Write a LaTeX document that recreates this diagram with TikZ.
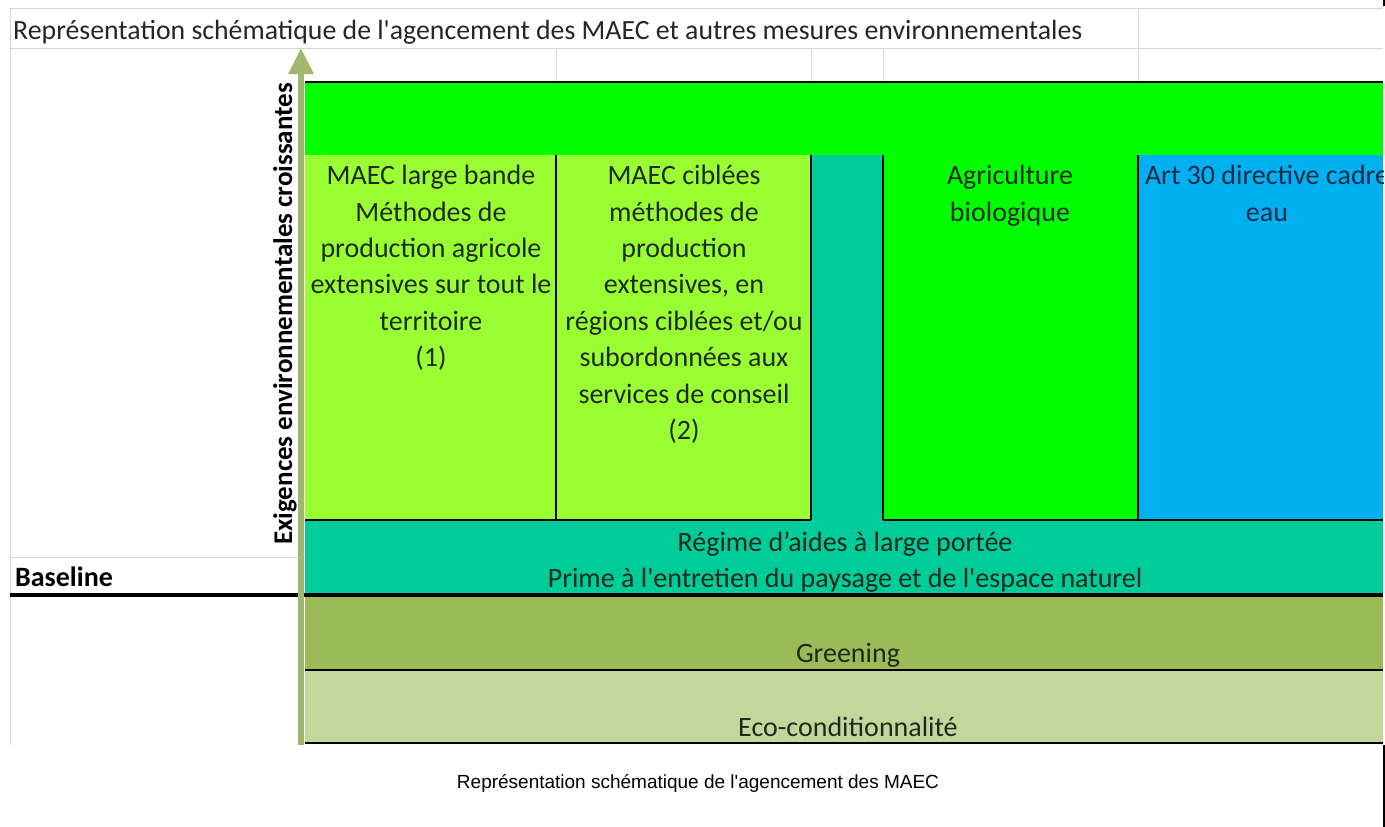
\documentclass[tikz,border=0pt]{standalone}
\usepackage{fontspec}
\setmainfont{Carlito}[Ligatures=TeXOff]
\newfontfamily\arialfont{Liberation Sans}[Ligatures=TeXOff]
\usetikzlibrary{arrows.meta}
\definecolor{topgreen}{RGB}{0,255,0}
\definecolor{lightgreen}{RGB}{153,255,51}
\definecolor{tealband}{RGB}{0,204,153}
\definecolor{bluecol}{RGB}{0,176,240}
\definecolor{greeningcol}{RGB}{155,187,89}
\definecolor{ecocol}{RGB}{196,215,155}
\definecolor{gridgray}{RGB}{214,214,214}
\definecolor{axiscol}{RGB}{162,184,112}
\definecolor{celltxt}{RGB}{32,42,28}
\definecolor{bluetxt}{RGB}{24,44,72}
\tikzset{
  gridline/.style={draw=gridgray, line width=1pt},
  border/.style={draw=black, line width=1.5pt},
  thickborder/.style={draw=black, line width=4.5pt},
  celltext/.style={font=\fontsize{28}{36.4}\selectfont, align=center, text=celltxt,
    inner sep=0pt, anchor=north, execute at begin node={\rule{0pt}{20pt}}},
  linetext/.style={font=\fontsize{28}{36.4}\selectfont, text=celltxt, inner sep=0pt, anchor=base},
  axisarrow/.style={draw=axiscol, line width=6pt, -{Triangle[length=26pt,width=24pt]}},
}
\begin{document}
\begin{tikzpicture}[x=1pt,y=-1pt]
\useasboundingbox (0,0) rectangle (1385,827);
\fill[white] (0,0) rectangle (1385,827);
% spreadsheet grid
\draw[gridline] (10,8) -- (1383,8);
\draw[gridline] (10,48) -- (1383,48);
\draw[gridline] (10,8) -- (10,745);
\draw[gridline] (1138,8) -- (1138,82);
\draw[gridline] (556,48) -- (556,82);
\draw[gridline] (811,48) -- (811,82);
\draw[gridline] (883,48) -- (883,82);
\draw[gridline] (10,557) -- (298,557);
% fills
\fill[topgreen] (305,82) rectangle (1383,155);
\fill[topgreen] (883,155) rectangle (1138,520);
\fill[lightgreen] (305,155) rectangle (811,520);
\fill[tealband] (811,155) rectangle (883,520);
\fill[tealband] (305,520) rectangle (1383,595);
\fill[bluecol] (1138,155) rectangle (1383,520);
\fill[greeningcol] (305,595) rectangle (1383,670);
\fill[ecocol] (305,670) rectangle (1383,743);
% borders
\draw[border] (305,82) -- (1383,82);
\draw[border] (556,155) -- (556,520);
\draw[border] (811,155) -- (811,520);
\draw[border] (883,155) -- (883,520);
\draw[border] (1138,155) -- (1138,520);
\draw[border] (305,520) -- (811,520);
\draw[border] (883,520) -- (1383,520);
\draw[thickborder] (10,595) -- (1383,595);
\draw[border] (305,670) -- (1383,670);
\draw[border] (305,743) -- (1383,743);
% right black edge
\draw[black, line width=3pt] (1384,745) -- (1384,827);
\draw[black, line width=3pt] (1384,0) -- (1384,6);
% axis
\coordinate (axb) at (301,745);
\coordinate (axt) at (301,48);
\draw[axisarrow] (axb) -- (axt);
\node[font=\bfseries\fontsize{27}{30}\selectfont, rotate=90, anchor=base, inner sep=0pt] (axlabel) at (292,314) {Exigences environnementales croissantes};
% title
\node[font=\fontsize{27.8}{34}\selectfont, text={rgb,255:red,38;green,38;blue,38}, anchor=base west, inner sep=0pt] (title) at (13,39) {Représentation schématique de l'agencement des MAEC et autres mesures environnementales};
% baseline label
\node[font=\bfseries\fontsize{28}{34}\selectfont, anchor=base west, inner sep=0pt] (baselinelbl) at (15,586) {Baseline};
% cells
\node[celltext] (c1) at (431,165) {MAEC large bande\\Méthodes de\\production agricole\\extensives sur tout le\\territoire\\(1)};
\node[celltext] (c2) at (684,165) {MAEC ciblées\\méthodes de\\production\\extensives, en\\régions ciblées et/ou\\subordonnées aux\\services de conseil\\(2)};
\node[celltext] (c4) at (1010,165) {Agriculture\\biologique};
\begin{scope}
\clip (1138,155) rectangle (1383,520);
\node[celltext, text=bluetxt] (c5) at (1267,165) {Art 30 directive cadre\\eau};
\end{scope}
\node[linetext] (regime1) at (845,551) {Régime d’aides à large portée};
\node[linetext] (regime2) at (845,587) {Prime à l'entretien du paysage et de l'espace naturel};
\node[linetext] (greening) at (848,662) {Greening};
\node[linetext] (eco) at (848,736) {Eco-conditionnalité};
% caption
\node[font=\arialfont\fontsize{19}{22}\selectfont, anchor=base, inner sep=0pt] (caption) at (698,788) {Représentation schématique de l'agencement des MAEC};
\end{tikzpicture}
\end{document}
